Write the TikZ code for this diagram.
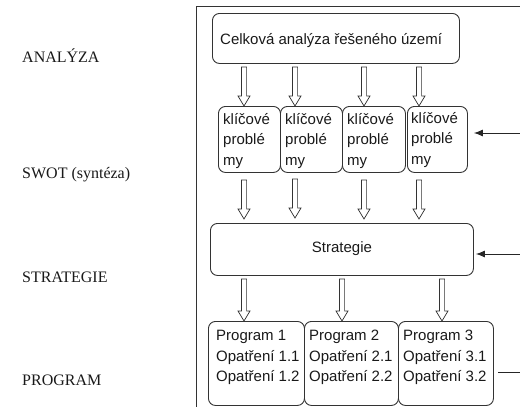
\documentclass[tikz,border=0pt]{standalone}
\usepackage{fontspec}
\setmainfont{Liberation Serif}
\newfontfamily\arialf{Liberation Sans}
\usetikzlibrary{arrows.meta,calc}
\newcommand\blockarrow[2]{\draw[blockarr] let \p1=#1, \p2=#2 in
 (\x1-2.6pt,\y1) -- (\x1-2.6pt,\y2+10pt) -- (\x1-6pt,\y2+10pt) -- (\x1,\y2) --
 (\x1+6pt,\y2+10pt) -- (\x1+2.6pt,\y2+10pt) -- (\x1+2.6pt,\y1) -- cycle;}
\begin{document}
\begin{tikzpicture}[x=1pt,y=-1pt,
 box/.style={draw=black!80, line width=0.9pt, rounded corners=7pt, inner sep=0pt, anchor=north west},
 txt/.style={font=\arialf\fontsize{15}{20.5}\selectfont, inner sep=0pt, align=left, text=black!90},
 lab/.style={font=\fontsize{16}{19}\selectfont, inner sep=0pt, anchor=base west, text=black!90},
 blockarr/.style={draw=black!80, line width=0.7pt, fill=white},
 feed/.style={draw=black!85, line width=0.9pt, -{Latex[length=9pt,width=7pt]}},
 frame/.style={draw=black!80, line width=0.9pt}]
\useasboundingbox (0,0) rectangle (520,407);
% left labels
\node[lab] (lA) at (22,62.5) {ANALÝZA};
\node[lab] (lS) at (22,178) {SWOT (syntéza)};
\node[lab] (lT) at (22,282.5) {STRATEGIE};
\node[lab] (lP) at (22,385) {PROGRAM};
% frame
\coordinate (fr1) at (520,6);
\coordinate (fr2) at (196,6);
\coordinate (fr3) at (196,407);
\draw[frame] (fr1) -- (fr2) -- (fr3);
% boxes
\node[box, minimum width=247pt, minimum height=50pt] (top) at (212,13) {};
\node[txt, anchor=west] (topt) at ($(top.west)+(8,2)$) {Celková analýza řešeného území};
\node[box, minimum width=62pt, minimum height=66pt] (k1) at (218,106) {};
\node[box, minimum width=62pt, minimum height=66pt] (k2) at (280,106) {};
\node[box, minimum width=63pt, minimum height=66pt] (k3) at (342,106) {};
\node[box, minimum width=60pt, minimum height=66pt] (k4) at (407,106) {};
\foreach \k in {k1,k2,k3} {\node[txt, anchor=west] (\k t) at ($(\k.west)+(5,1.5)$) {klíčové\\problé\\my};}
\node[txt, anchor=west] (k4t) at ($(k4.west)+(4,0.5)$) {klíčové\\problé\\my};
\node[box, minimum width=263pt, minimum height=52pt] (strat) at (210,223) {};
\node[txt] (stratt) at ($(strat.center)+(0,-1)$) {Strategie};
\node[box, minimum width=96pt, minimum height=84pt] (p1) at (208,321) {};
\node[box, minimum width=94pt, minimum height=84pt] (p2) at (304,321) {};
\node[box, minimum width=95pt, minimum height=84pt] (p3) at (398,321) {};
\node[txt, anchor=north west] (p1t) at ($(p1.north west)+(8,9)$) {Program 1\\Opatření 1.1\\Opatření 1.2};
\node[txt, anchor=north west] (p2t) at ($(p2.north west)+(5,9)$) {Program 2\\Opatření 2.1\\Opatření 2.2};
\node[txt, anchor=north west] (p3t) at ($(p3.north west)+(5,9)$) {Program 3\\Opatření 3.1\\Opatření 3.2};
% block arrows
\blockarrow{($(top.south -| 244,0)+(0,3)$)}{(k1.north -| 244,0)}
\blockarrow{($(top.south -| 295,0)+(0,3)$)}{(k2.north -| 295,0)}
\blockarrow{($(top.south -| 364,0)+(0,3)$)}{(k3.north -| 364,0)}
\blockarrow{($(top.south -| 419,0)+(0,3)$)}{(k4.north -| 419,0)}
\blockarrow{($(k1.south -| 244,0)+(0,7)$)}{($(strat.north -| 244,0)+(0,-4)$)}
\blockarrow{($(k2.south -| 295,0)+(0,6)$)}{($(strat.north -| 295,0)+(0,-5)$)}
\blockarrow{($(k3.south -| 364,0)+(0,7)$)}{($(strat.north -| 364,0)+(0,-4)$)}
\blockarrow{($(k4.south -| 419,0)+(0,7)$)}{($(strat.north -| 419,0)+(0,-4)$)}
\blockarrow{($(strat.south -| 244,0)+(0,3)$)}{(p1.north -| 244,0)}
\blockarrow{($(strat.south -| 342,0)+(0,3)$)}{(p2.north -| 342,0)}
\blockarrow{($(strat.south -| 442,0)+(0,3)$)}{(p3.north -| 442,0)}
% feedback lines
\coordinate (f1) at (520,133);
\coordinate (f2) at (520,254);
\coordinate (f3) at (520,372);
\draw[feed, shorten >=6pt] (f1) -- (k4.east |- f1);
\draw[feed, shorten >=2pt] (f2) -- (strat.east |- f2);
\draw[draw=black!85, line width=0.9pt, shorten >=4pt] (f3) -- (p3.east |- f3);
\end{tikzpicture}
\end{document}
